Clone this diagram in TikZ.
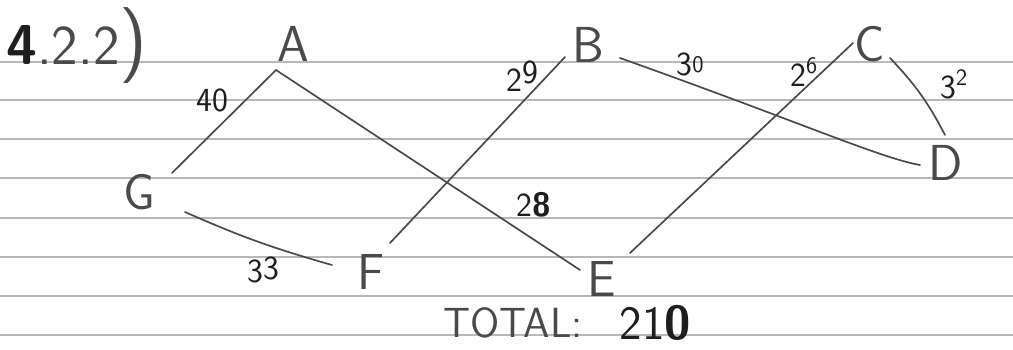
\documentclass[tikz,border=0pt]{standalone}
\usepackage{xcolor}
\usepackage{tikz}
\usetikzlibrary{positioning}
\definecolor{pencil}{HTML}{4A4A4A}
\definecolor{ink}{HTML}{1E1E1E}
\definecolor{ruleline}{HTML}{B8B8B8}

\begin{document}
\begin{tikzpicture}[
        x=0.025cm, y=-0.025cm,
        vertex/.style={
            inner sep=0pt,
            font=\fontsize{36}{36}\selectfont\sffamily,
            text=pencil
        },
        weight/.style={
            inner sep=0pt,
            font=\fontsize{24}{24}\selectfont\sffamily,
            text=ink
        },
        edge/.style={line width=1.2pt,pencil,line cap=round},
        paperline/.style={line width=1.1pt,ruleline}
    ]
    \useasboundingbox (0,0) rectangle (1013,349);
    % ruled paper
    \foreach \y in {62,100,139,178,218,257,296,335}
        \draw[paperline] (0,\y) -- (1013,\y);

    \node[inner sep=0pt, anchor=west, text=ink,
        font=\fontsize{40}{40}\selectfont\sffamily] (title) at (6,46)
        {\textbf{4}{\color{pencil}.2.2{\fontsize{54}{54}\selectfont)}}};

    \node[vertex] (A) at (293,44) {A};
    \node[vertex] (B) at (588,45) {B};
    \node[vertex] (C) at (870,44) {C};
    \node[vertex] (D) at (946,163) {D};
    \node[vertex] (E) at (602,279) {E};
    \node[vertex] (F) at (371,272) {F};
    \node[vertex] (G) at (139,192) {G};

    \draw[edge] ([shift={(-17,26)}]A.center) -- ([shift={(33,-19)}]G.center);
    \draw[edge] ([shift={(-17,26)}]A.center) -- ([shift={(-22,-9)}]E.center);
    \draw[edge] ([shift={(-23,12)}]B.center) -- ([shift={(19,-29)}]F.center);
    \draw[edge] ([shift={(32,13)}]B.center) .. controls (800,122) and (880,158)
        .. ([shift={(-26,2)}]D.center);
    \draw[edge] ([shift={(-17,-1)}]C.center) -- ([shift={(28,-26)}]E.center);
    \draw[edge] ([shift={(20,14)}]C.center) to[bend left=8] ([shift={(-1,-28)}]D.center);
    \draw[edge] ([shift={(46,20)}]G.center) to[bend right=4] ([shift={(-39,-7)}]F.center);

    \node[weight] (w40) at (212,100) {40};
    \node[weight] (w29) at (522,76) {2\raisebox{6pt}{9}};
    \node[weight] (w30) at (690,64) {3\raisebox{2pt}{\fontsize{17}{17}\selectfont 0}};
    \node[weight] (w26) at (804,72) {2\textsuperscript{6}};
    \node[weight] (w32) at (954,84) {3\textsuperscript{2}};
    \node[weight] (w28) at (534,205) {2\textbf{8}};
    \node[weight] (w33) at (263,270) {3\raisebox{2pt}{3}};

    \node[inner sep=0pt, text=pencil,
        font=\fontsize{30}{30}\selectfont\sffamily] (total) at (513,323) {TOTAL:};
    \node[inner sep=0pt, text=ink, right=26pt of total,
        font=\fontsize{34}{34}\selectfont\sffamily] (sum) {21\textbf{0}};
\end{tikzpicture}
\end{document}
